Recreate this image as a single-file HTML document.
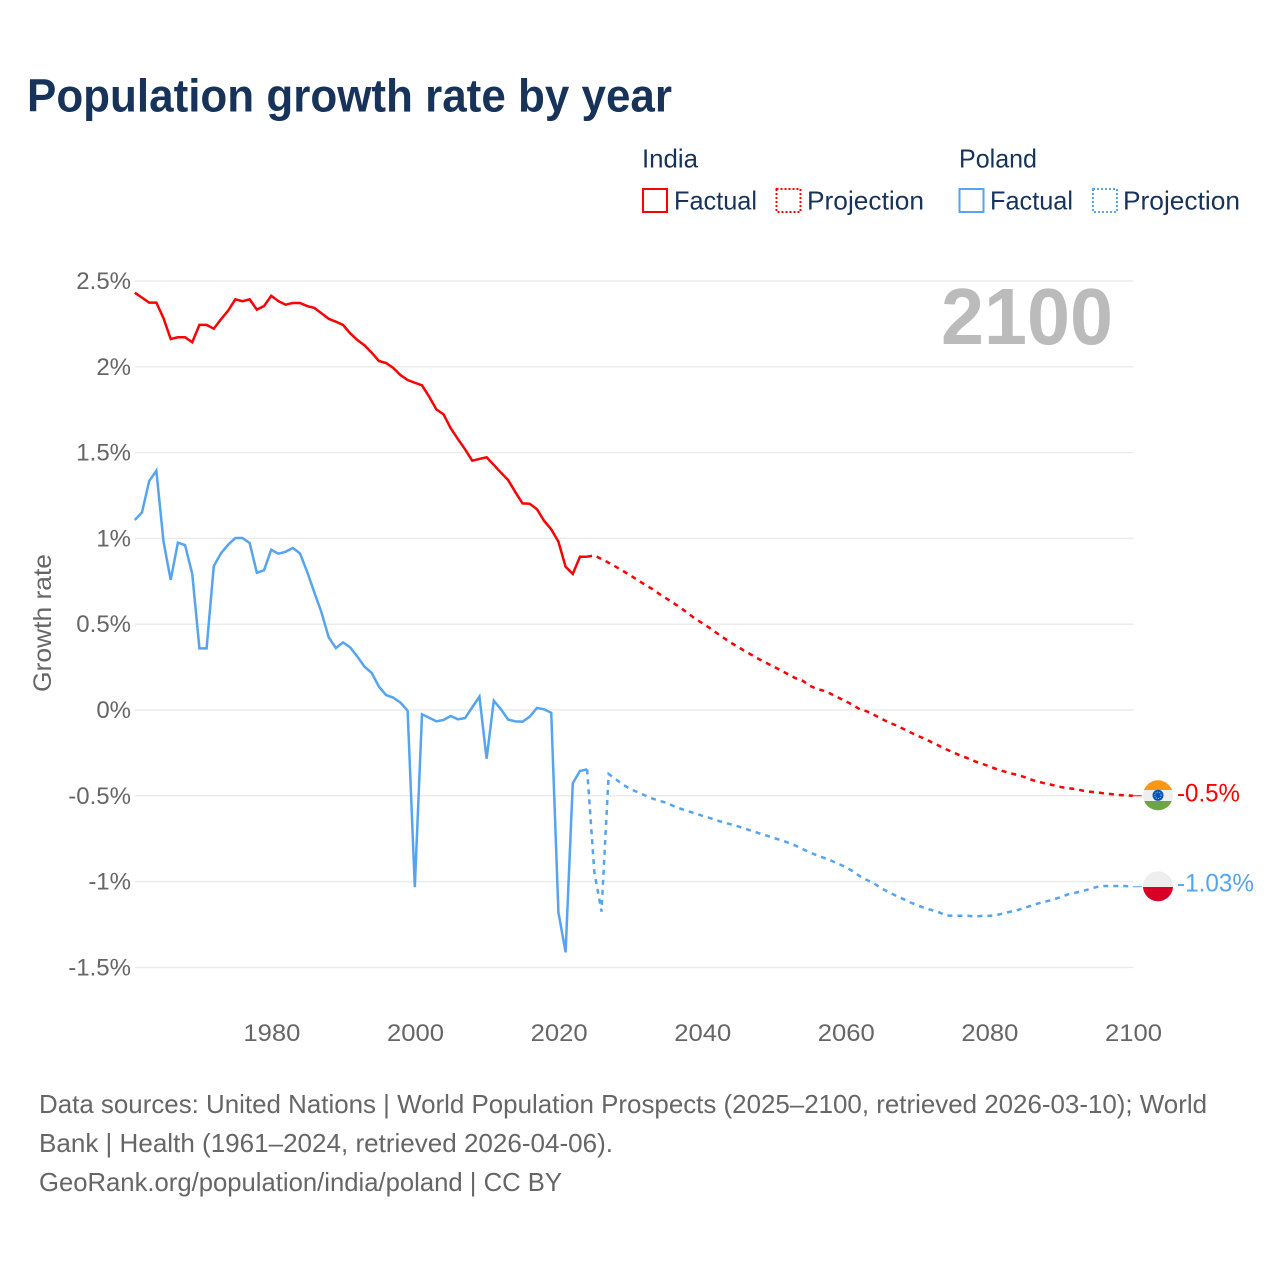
<!DOCTYPE html>
<html lang="en">
<head>
<meta charset="utf-8">
<title>Population growth rate by year</title>
<style>
  html, body { margin: 0; padding: 0; background: #ffffff; }
  svg { display: block; }
  text { font-family: "Liberation Sans", sans-serif; }
</style>
</head>
<body>
<svg id="chart" xmlns="http://www.w3.org/2000/svg" width="1280" height="1280" viewBox="0 0 1280 1280">
  <defs>
    <clipPath id="india-clip"><circle cx="1158" cy="795.3" r="15"/></clipPath>
    <clipPath id="poland-clip"><circle cx="1158" cy="886.3" r="15"/></clipPath>
  </defs>
  <rect width="1280" height="1280" fill="#ffffff"/>

  <text x="27" y="111.500" font-size="46" font-weight="700" fill="#17335a" textLength="645" lengthAdjust="spacingAndGlyphs">Population growth rate by year</text>

  <g font-size="26" fill="#17335a">
    <text x="642" y="167.500" textLength="56" lengthAdjust="spacingAndGlyphs">India</text>
    <rect x="643" y="189" width="24" height="23" fill="none" stroke="#ff0000" stroke-width="2"/>
    <text x="674" y="209.500" textLength="83" lengthAdjust="spacingAndGlyphs">Factual</text>
    <rect x="776.500" y="189" width="24" height="23" fill="none" stroke="#ff0000" stroke-width="2" stroke-dasharray="2 2"/>
    <text x="807" y="209.500" textLength="117" lengthAdjust="spacingAndGlyphs">Projection</text>
    <text x="959" y="167.500" textLength="78" lengthAdjust="spacingAndGlyphs">Poland</text>
    <rect x="959.500" y="189" width="24" height="23" fill="none" stroke="#55a4f0" stroke-width="2"/>
    <text x="990" y="209.500" textLength="83" lengthAdjust="spacingAndGlyphs">Factual</text>
    <rect x="1093" y="189" width="24" height="23" fill="none" stroke="#55a4f0" stroke-width="2" stroke-dasharray="2 2"/>
    <text x="1123" y="209.500" textLength="117" lengthAdjust="spacingAndGlyphs">Projection</text>
  </g>

  <g id="grid"></g>
  <g id="y-ticks" font-size="24" fill="#666666" text-anchor="end"></g>
  <g id="x-ticks" font-size="24" fill="#666666" text-anchor="middle"></g>

  <text transform="translate(51 623) rotate(-90)" font-size="25" fill="#666666" text-anchor="middle" textLength="138" lengthAdjust="spacingAndGlyphs">Growth rate</text>

  <text x="941" y="344" font-size="80" font-weight="700" fill="#bbbbbb" textLength="172" lengthAdjust="spacingAndGlyphs">2100</text>

  <g id="series"></g>

  <g clip-path="url(#india-clip)">
    <rect x="1143" y="780" width="30" height="31" fill="#eeeeee"/>
    <rect x="1143" y="780" width="30" height="10" fill="#ff9811"/>
    <rect x="1143" y="801" width="30" height="10" fill="#6da544"/>
    <circle cx="1158" cy="795.3" r="5.500" fill="#0052b4"/>
    <circle cx="1158" cy="795.3" r="3.200" fill="none" stroke="#9fc1ea" stroke-width="1" stroke-dasharray="1 1"/>
  </g>
  <g clip-path="url(#poland-clip)">
    <rect x="1143" y="871" width="30" height="16" fill="#eeeeee"/>
    <rect x="1143" y="887" width="30" height="15" fill="#d80027"/>
  </g>
  <text x="1177" y="801.500" font-size="25" fill="#ff0000" textLength="63" lengthAdjust="spacingAndGlyphs">-0.5%</text>
  <text x="1177" y="891.500" font-size="25" fill="#55a4f0" textLength="77" lengthAdjust="spacingAndGlyphs">-1.03%</text>

  <g font-size="26" fill="#666666">
    <text x="39" y="1113" textLength="1168" lengthAdjust="spacingAndGlyphs">Data sources: United Nations | World Population Prospects (2025–2100, retrieved 2026-03-10); World</text>
    <text x="39" y="1152" textLength="574" lengthAdjust="spacingAndGlyphs">Bank | Health (1961–2024, retrieved 2026-04-06).</text>
    <text x="39" y="1191" textLength="523" lengthAdjust="spacingAndGlyphs">GeoRank.org/population/india/poland | CC BY</text>
  </g>
</svg>
<script>
const yTickValues = [2.5, 2, 1.5, 1, 0.5, 0, -0.5, -1, -1.5];
const yTickLabels = ['2.5%', '2%', '1.5%', '1%', '0.5%', '0%', '-0.5%', '-1%', '-1.5%'];
const xTickYears = [1980, 2000, 2020, 2040, 2060, 2080, 2100];
const factualStartYear = 1961;
const projectionStartYear = 2024;

const indiaFactual = [
  2.432, 2.403, 2.374, 2.374, 2.283, 2.162, 2.172, 2.172, 2.143, 2.244,
  2.244, 2.222, 2.277, 2.327, 2.393, 2.382, 2.393, 2.333, 2.354, 2.414,
  2.383, 2.362, 2.372, 2.372, 2.354, 2.343, 2.312, 2.28, 2.263, 2.244,
  2.195, 2.156, 2.125, 2.082, 2.034, 2.022, 1.993, 1.952, 1.923, 1.907,
  1.892, 1.826, 1.752, 1.723, 1.642, 1.579, 1.519, 1.453, 1.463, 1.473,
  1.428, 1.383, 1.34, 1.27, 1.204, 1.202, 1.171, 1.103, 1.053, 0.981,
  0.835, 0.793, 0.893, 0.893
];
const indiaProjection = [
  0.893, 0.901, 0.88, 0.858, 0.835, 0.81, 0.785, 0.758, 0.732, 0.707,
  0.678, 0.651, 0.624, 0.597, 0.565, 0.534, 0.507, 0.48, 0.45, 0.421,
  0.392, 0.369, 0.342, 0.319, 0.295, 0.274, 0.252, 0.231, 0.208, 0.186,
  0.171, 0.142, 0.122, 0.112, 0.093, 0.072, 0.052, 0.029, 0.004, -0.008,
  -0.029, -0.051, -0.072, -0.089, -0.109, -0.13, -0.15, -0.167, -0.188, -0.208,
  -0.229, -0.247, -0.266, -0.281, -0.299, -0.313, -0.328, -0.344, -0.357, -0.369,
  -0.379, -0.392, -0.408, -0.42, -0.429, -0.439, -0.449, -0.456, -0.46, -0.47,
  -0.476, -0.48, -0.486, -0.49, -0.495, -0.497, -0.5
];
const polandFactual = [
  1.107, 1.152, 1.334, 1.395, 0.981, 0.758, 0.975, 0.961, 0.793, 0.359,
  0.359, 0.839, 0.913, 0.963, 1.002, 1.002, 0.973, 0.8, 0.814, 0.934,
  0.911, 0.922, 0.944, 0.913, 0.806, 0.686, 0.569, 0.424, 0.361, 0.394,
  0.365, 0.311, 0.252, 0.216, 0.136, 0.087, 0.072, 0.043, -0.004, -1.033,
  -0.025, -0.045, -0.066, -0.058, -0.035, -0.054, -0.047, 0.016, 0.078, -0.284,
  0.054, 0.004, -0.056, -0.066, -0.068, -0.039, 0.012, 0.004, -0.016, -1.179,
  -1.412, -0.427, -0.355, -0.346
];
const polandProjection = [
  -0.346, -0.942, -1.175, -0.373, -0.404, -0.435, -0.46, -0.478, -0.497, -0.515,
  -0.529, -0.54, -0.559, -0.575, -0.589, -0.602, -0.616, -0.628, -0.643, -0.655,
  -0.666, -0.678, -0.692, -0.705, -0.719, -0.732, -0.746, -0.758, -0.773, -0.79,
  -0.81, -0.829, -0.847, -0.862, -0.878, -0.897, -0.915, -0.94, -0.969, -0.991,
  -1.012, -1.039, -1.062, -1.082, -1.101, -1.121, -1.138, -1.154, -1.166, -1.179,
  -1.197, -1.199, -1.199, -1.199, -1.203, -1.2, -1.2, -1.195, -1.185, -1.175,
  -1.166, -1.152, -1.138, -1.125, -1.115, -1.103, -1.09, -1.074, -1.065, -1.055,
  -1.043, -1.031, -1.026, -1.026, -1.026, -1.026, -1.03
];

const SVG_NS = 'http://www.w3.org/2000/svg';
function xScale(year) { return 134.8 + (year - 1961) * 998 / 139; }
function yScale(value) { return 710 - value * 171.6; }
function pointsFor(values, startYear) {
  return values.map(function (v, i) {
    return xScale(startYear + i).toFixed(2) + ',' + yScale(v).toFixed(2);
  }).join(' ');
}
function addLine(values, startYear, color, dashed, name) {
  const line = document.createElementNS(SVG_NS, 'polyline');
  
  
  line.setAttribute('points', pointsFor(values, startYear));
  line.setAttribute('fill', 'none');
  line.setAttribute('stroke', color);
  line.setAttribute('stroke-width', '2.5');
  line.setAttribute('stroke-linejoin', 'miter');
  if (dashed) line.setAttribute('stroke-dasharray', '5 5');
  document.getElementById('series').appendChild(line);
}
function addConnector(value, color, name) {
  const c = document.createElementNS(SVG_NS, 'line');
  
  
  c.setAttribute('x1', xScale(2100));
  c.setAttribute('x2', xScale(2100) + 9);
  c.setAttribute('y1', yScale(value));
  c.setAttribute('y2', yScale(value));
  c.setAttribute('stroke', color);
  c.setAttribute('stroke-width', '1');
  document.getElementById('series').appendChild(c);
}

yTickValues.forEach(function (v, i) {
  const g = document.createElementNS(SVG_NS, 'line');
  
  
  g.setAttribute('x1', xScale(1961));
  g.setAttribute('x2', xScale(2100) + 0.7);
  g.setAttribute('y1', yScale(v));
  g.setAttribute('y2', yScale(v));
  g.setAttribute('stroke', '#ebebeb');
  g.setAttribute('stroke-width', '1.5');
  document.getElementById('grid').appendChild(g);

  const t = document.createElementNS(SVG_NS, 'text');
  
  
  t.setAttribute('x', 131);
  t.setAttribute('y', yScale(v) + 8);
  t.textContent = yTickLabels[i];
  document.getElementById('y-ticks').appendChild(t);
});

xTickYears.forEach(function (year) {
  const t = document.createElementNS(SVG_NS, 'text');
  
  
  t.setAttribute('x', xScale(year) + 0.7);
  t.setAttribute('y', 1041);
  t.setAttribute('textLength', '57');
  t.setAttribute('lengthAdjust', 'spacingAndGlyphs');
  t.textContent = String(year);
  document.getElementById('x-ticks').appendChild(t);
});

addLine(indiaFactual, factualStartYear, '#ff0000', false, 'india-factual-line');
addLine(indiaProjection, projectionStartYear, '#ff0000', true, 'india-projection-line');
addLine(polandFactual, factualStartYear, '#55a4f0', false, 'poland-factual-line');
addLine(polandProjection, projectionStartYear, '#55a4f0', true, 'poland-projection-line');
addConnector(indiaProjection[indiaProjection.length - 1], '#ff0000', 'india-label-connector');
addConnector(polandProjection[polandProjection.length - 1], '#55a4f0', 'poland-label-connector');
</script>
</body>
</html>
